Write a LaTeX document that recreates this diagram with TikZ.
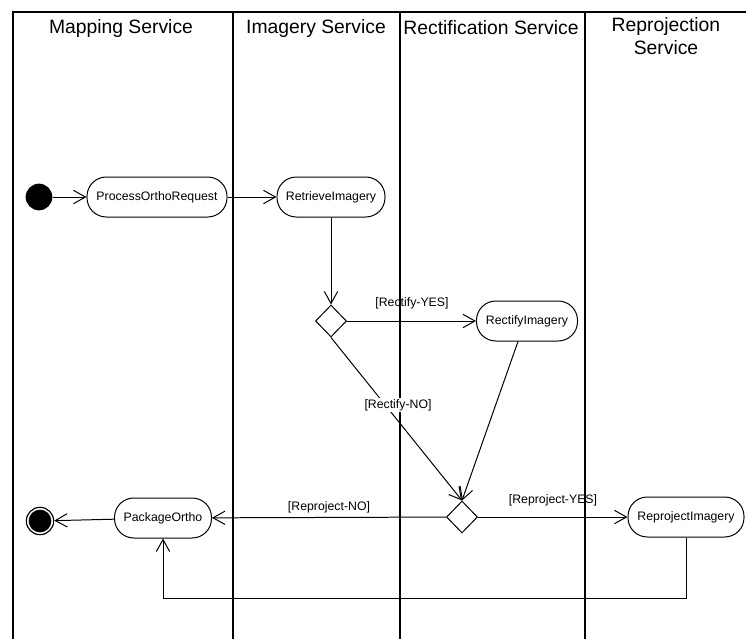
\documentclass[tikz,border=0pt]{standalone}
\usepackage{fontspec}
\setmainfont{Liberation Sans}
\usetikzlibrary{
    shapes.geometric,
    arrows.meta,
    positioning,
    calc
}

\begin{document}
\begin{tikzpicture}[
        x=0.03cm, y=-0.03cm,
        action/.style={draw, line width=0.85pt, rounded corners=0.58cm, minimum height=1.2cm, inner sep=2pt, align=center, font=\fontsize{10.5}{12}\selectfont},
        decision/.style={draw, diamond, line width=0.85pt, minimum width=0.93cm, minimum height=0.96cm, inner sep=0pt},
        initial/.style={circle, fill=black, minimum size=0.8cm, inner sep=0pt},
        final/.style={circle, draw, line width=1pt, minimum size=0.82cm, inner sep=0pt,
            path picture={\fill (path picture bounding box.center) circle (0.34cm);}},
        guard/.style={font=\fontsize{10.5}{12}\selectfont, inner sep=1pt},
        lane/.style={line width=0.9pt},
        header/.style={align=center, font=\fontsize{16.5}{19}\selectfont},
        arrow/.style={-{Straight Barb[length=3.6mm, width=4mm]}, line width=0.85pt}
    ]
        % Page size
        \useasboundingbox (0,0) rectangle (746,639);

        % Swimlanes
        \draw[lane] (13,639) -- (13,12) -- (746,12);
        \draw[lane] (233,12) -- (233,639);
        \draw[lane] (400,12) -- (400,639);
        \draw[lane] (585,12) -- (585,639);

        % Lane headers
        \node[header] (hmap) at (121,28) {Mapping Service};
        \node[header] (himg) at (316,28) {Imagery Service};
        \node[header] (hrect) at (491,28) {Rectification Service};
        \node[header] (hrepr) at (666,36) {Reprojection\\Service};

        % Start and end
        \node[initial] (start) at (39,197) {};
        \node[final] (stop) at (40,521) {};

        % Actions
        \node[action, minimum width=4.2cm] (por) at (157,197) {ProcessOrthoRequest};
        \node[action, minimum width=3.24cm] (ri) at (331,197) {RetrieveImagery};
        \node[action, minimum width=3.03cm] (rect) at (527,321) {RectifyImagery};
        \node[action, minimum width=2.91cm] (pkg) at (163,518) {PackageOrtho};
        \node[action, minimum width=3.48cm] (repr) at (686,517) {ReprojectImagery};

        % Decisions
        \node[decision] (dec1) at (331,321) {};
        \node[decision] (dec2) at (462,517) {};

        % Back path
        \coordinate (back) at ($(repr.south)+(0,61)$);

        % Arrows
        \draw[arrow] (start) -- (por);
        \draw[arrow] (por) -- (ri);
        \draw[arrow] (ri) -- (dec1);
        \draw[arrow] (dec1) -- (rect);
        \draw[arrow] (dec1.south) -- (dec2.north);
        \draw[arrow] (rect.south) ++(-9,0) -- (dec2.north);
        \draw[arrow] (dec2) -- (pkg);
        \draw[arrow] (dec2) -- (repr);
        \draw[arrow] (pkg) -- (stop);
        \draw[arrow] (repr.south) -- (back) -| (pkg.south);

        % Guards
        \node[guard] (gry) at (412,303) {[Rectify-YES]};
        \node[guard, fill=white] (grn) at (398,405) {[Rectify-NO]};
        \node[guard] (gpn) at (329,507) {[Reproject-NO]};
        \node[guard] (gpy) at (553,500) {[Reproject-YES]};
    \end{tikzpicture}
\end{document}
